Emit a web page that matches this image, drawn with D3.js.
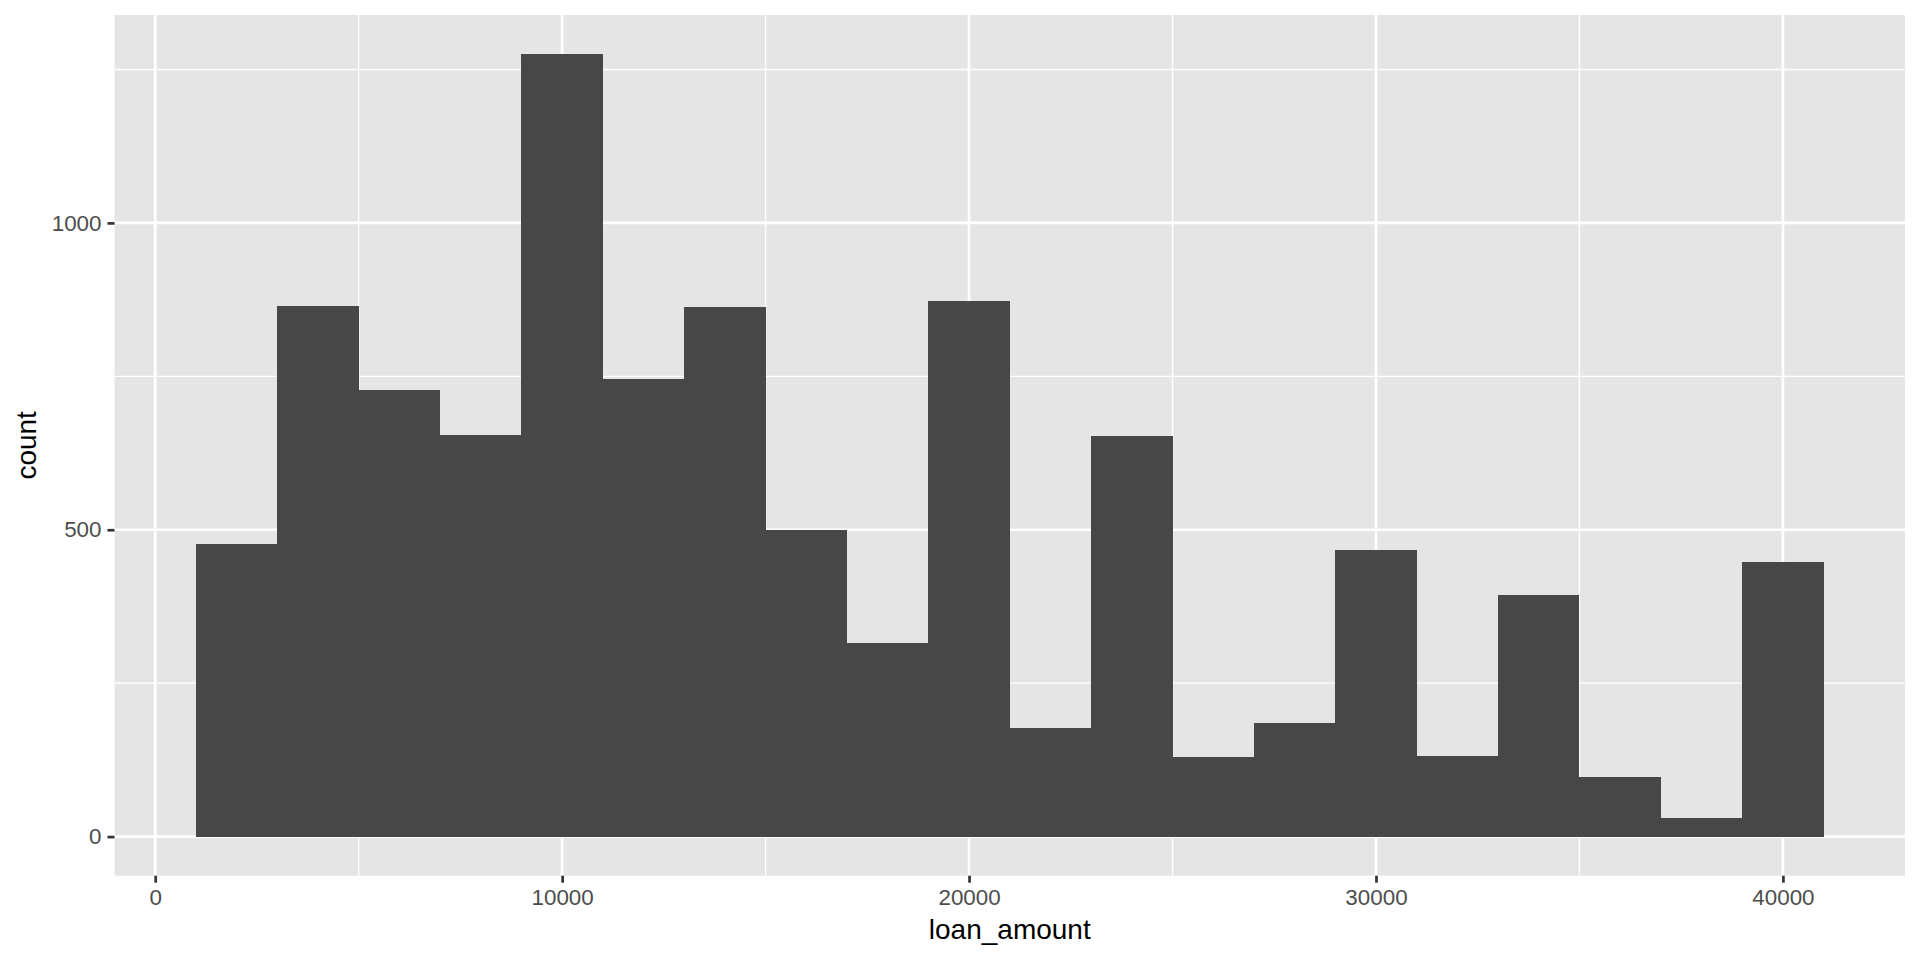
<!DOCTYPE html>
<html>
<head>
<meta charset="utf-8">
<script src="https://cdn.jsdelivr.net/npm/d3@7"></script>
<style>
  body { margin: 0; background: #ffffff; }
  text { font-family: "Liberation Sans", Arial, sans-serif; }
</style>
</head>
<body>
<div id="chart"></div>
<script>
// histogram bins (centre of each 2000-wide bin) and their counts
const binCenters = [2000, 4000, 6000, 8000, 10000, 12000, 14000, 16000, 18000, 20000,
                    22000, 24000, 26000, 28000, 30000, 32000, 34000, 36000, 38000, 40000];
const counts = [476, 864, 727, 654, 1275, 745, 863, 499, 316, 873,
                177, 653, 129, 185, 467, 132, 394, 97, 30, 447];
const binWidth = 2000;
const xTicks = [0, 10000, 20000, 30000, 40000];
const xMinor = [5000, 15000, 25000, 35000];
const yTicks = [0, 500, 1000];
const yMinor = [250, 750, 1250];

const W = 1920, H = 960;
const panel = { left: 114.5, right: 1905, top: 15, bottom: 875.7 };

const svg = d3.select("#chart")
    .append("svg")
    .attr("width", W)
    .attr("height", H);

// domains with ggplot's 5% expansion
const xLo = d3.min(binCenters) - binWidth / 2, xHi = d3.max(binCenters) + binWidth / 2;
const xPad = (xHi - xLo) * 0.05;
const x = d3.scaleLinear()
    .domain([xLo - xPad, xHi + xPad])
    .range([panel.left, panel.right]);

const yMax = d3.max(counts);
const y = d3.scaleLinear()
    .domain([-yMax * 0.05, yMax * 1.05])
    .range([panel.bottom, panel.top]);

// panel background
svg.append("rect")
    .attr("x", panel.left).attr("y", panel.top)
    .attr("width", panel.right - panel.left)
    .attr("height", panel.bottom - panel.top)
    .attr("fill", "#e5e5e5");

const grid = svg.append("g").attr("stroke", "#ffffff");
grid.selectAll(".ymin").data(yMinor).join("line")
    .attr("x1", panel.left).attr("x2", panel.right)
    .attr("y1", d => y(d)).attr("y2", d => y(d))
    .attr("stroke-width", 1.35);
grid.selectAll(".xmin").data(xMinor).join("line")
    .attr("y1", panel.top).attr("y2", panel.bottom)
    .attr("x1", d => x(d)).attr("x2", d => x(d))
    .attr("stroke-width", 1.35);
grid.selectAll(".ymaj").data(yTicks).join("line")
    .attr("x1", panel.left).attr("x2", panel.right)
    .attr("y1", d => y(d)).attr("y2", d => y(d))
    .attr("stroke-width", 2.7);
grid.selectAll(".xmaj").data(xTicks).join("line")
    .attr("y1", panel.top).attr("y2", panel.bottom)
    .attr("x1", d => x(d)).attr("x2", d => x(d))
    .attr("stroke-width", 2.7);

// bars - crisp edges so neighbouring bins don't show a seam
svg.append("g")
    .attr("shape-rendering", "crispEdges")
    .selectAll("rect")
    .data(binCenters)
    .join("rect")
    .attr("x", d => x(d - binWidth / 2))
    .attr("width", d => x(d + binWidth / 2) - x(d - binWidth / 2))
    .attr("y", (d, i) => y(counts[i]))
    .attr("height", (d, i) => y(0) - y(counts[i]))
    .attr("fill", "#474747");

// axes
const xAxis = svg.append("g")
    .attr("transform", `translate(0,${panel.bottom})`)
    .call(d3.axisBottom(x).tickValues(xTicks).tickFormat(d3.format("d")).tickSize(7).tickPadding(6));
const yAxis = svg.append("g")
    .attr("transform", `translate(${panel.left},0)`)
    .call(d3.axisLeft(y).tickValues(yTicks).tickFormat(d3.format("d")).tickSize(7).tickPadding(6));

[xAxis, yAxis].forEach(a => {
    a.select(".domain").remove();
    a.selectAll(".tick line").attr("stroke", "#333333").attr("stroke-width", 2.7);
    a.selectAll(".tick text")
        .attr("fill", "#4d4d4d")
        .style("font-size", "22.4px");
});

svg.append("text")
    .attr("x", (panel.left + panel.right) / 2)
    .attr("y", 939)
    .attr("text-anchor", "middle")
    .style("font-size", "28px")
    .attr("fill", "#000000")
    .text("loan_amount");

svg.append("text")
    .attr("transform", `translate(36,${(panel.top + panel.bottom) / 2}) rotate(-90)`)
    .attr("text-anchor", "middle")
    .style("font-size", "28px")
    .attr("fill", "#000000")
    .text("count");
</script>
</body>
</html>
